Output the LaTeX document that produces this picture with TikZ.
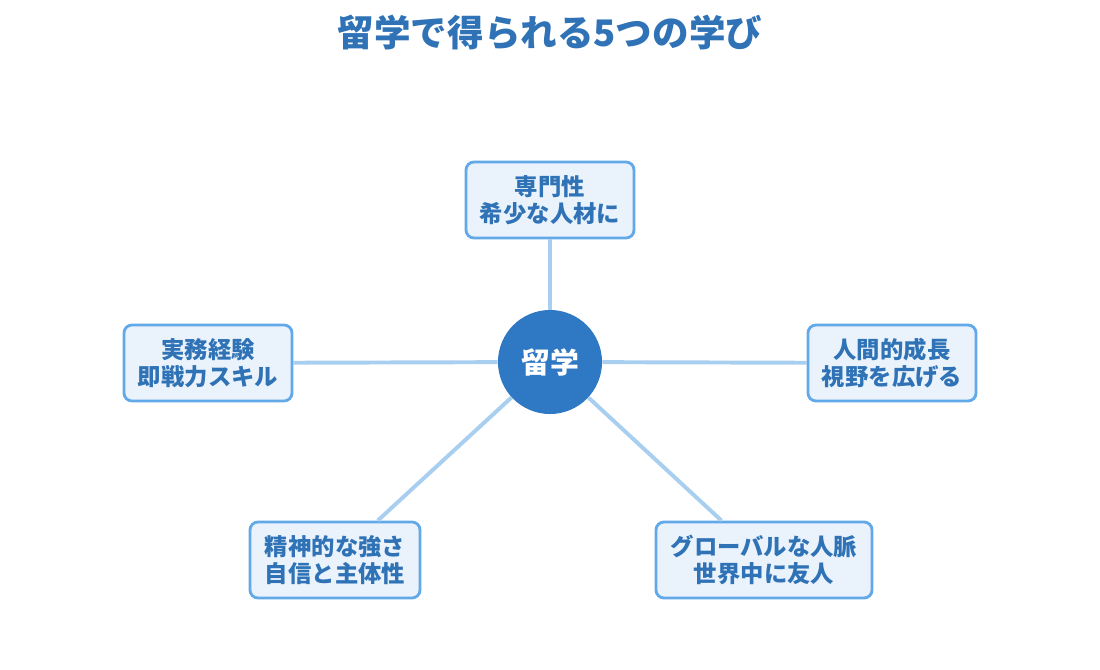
\documentclass[tikz,border=0pt]{standalone}
\usepackage{fontspec}
\newfontfamily\cjk{Noto Sans CJK JP}
\usepackage{xcolor}
\definecolor{accent}{HTML}{2F78C4}
\definecolor{accentline}{HTML}{A8CEF0}
\definecolor{accentframe}{HTML}{62A9E9}
\definecolor{accentfill}{HTML}{EAF3FC}
\definecolor{accenttext}{HTML}{2F72B6}
\usepackage{tikz}
\usetikzlibrary{positioning,calc}
\tikzset{
  lbox/.style={rectangle, rounded corners=0.2cm, draw=accentframe, line width=2pt,
               fill=accentfill, text=accenttext, minimum width=4.2cm, minimum height=1.9cm,
               inner sep=2pt, font=\cjk\bfseries\fontsize{16.6}{19}\selectfont, align=center},
  lboxw/.style={lbox, minimum width=5.4cm},
  lhub/.style={circle, fill=accent, text=white, minimum size=2.6cm, inner sep=0pt,
               font=\cjk\bfseries\fontsize{20.5}{24}\selectfont},
  llink/.style={line width=2.8pt, color=accentline},
}

\begin{document}
\begin{tikzpicture}[x=0.025cm, y=-0.025cm]
  \useasboundingbox (0,0) rectangle (1100,670);
  \node[text=accenttext, font=\cjk\bfseries\fontsize{26}{30}\selectfont] (title) at (550,33) {留学で得られる5つの学び};

  \node[lhub]  (hub)   at (550,362) {留学};
  \node[lbox]  (pro)   at (550,200) {専門性\\希少な人材に};
  \node[lbox]  (work)  at (208,363) {実務経験\\即戦力スキル};
  \node[lbox]  (grow)  at (892,363) {人間的成長\\視野を広げる};
  \node[lbox, minimum width=4.25cm] (mind) at (335,560) {精神的な強さ\\自信と主体性};
  \node[lboxw] (world) at (764,560) {グローバルな人脈\\世界中に友人};

  \draw[llink] (hub) -- (pro);
  \draw[llink] (hub) -- (work);
  \draw[llink] (hub) -- (grow);
  \draw[llink] (hub) -- (mind);
  \draw[llink] (hub) -- (world);
\end{tikzpicture}
\end{document}
